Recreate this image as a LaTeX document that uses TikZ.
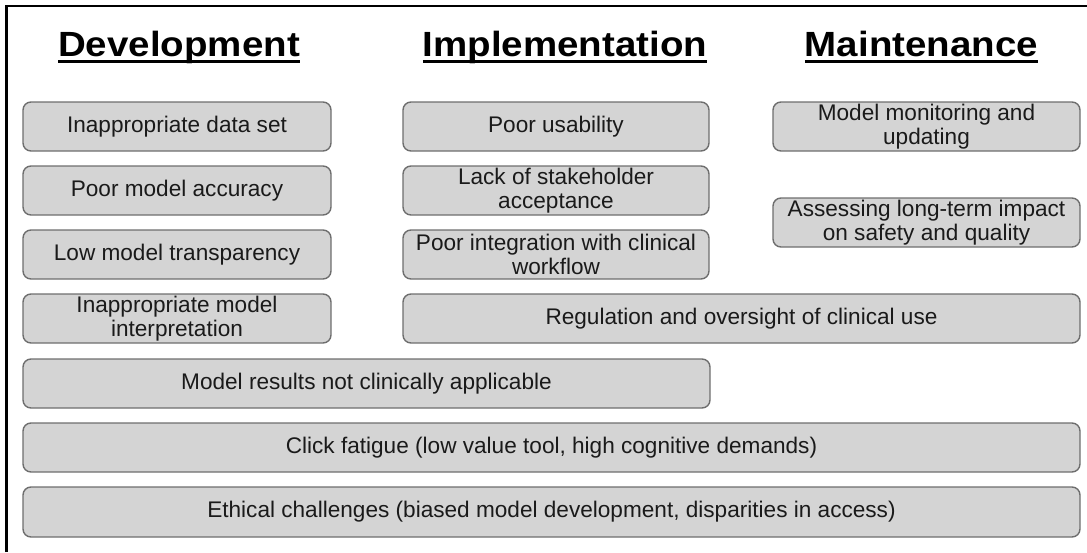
\documentclass[tikz,border=0pt]{standalone}
\usepackage{fontspec}
\setmainfont{Liberation Sans}
\newfontfamily\hdrfont[FakeStretch=1.1]{Liberation Sans}
\definecolor{boxfill}{HTML}{D4D4D4}
\definecolor{boxline}{HTML}{6E6E6E}
\definecolor{txt}{HTML}{1A1A1A}
\begin{document}
\begin{tikzpicture}[x=1pt,y=-1pt,
  item/.style={draw=boxline, fill=boxfill, line width=1.4pt, rounded corners=8pt,
    inner sep=0pt, outer sep=0pt, align=center, text=txt,
    font=\fontsize{22.6}{23.5}\selectfont},
  hdr/.style={inner sep=0pt, outer sep=0pt, anchor=base, text=black,
    font=\hdrfont\fontsize{35}{40}\selectfont\bfseries}]
\useasboundingbox (0,0) rectangle (1087,552);
% frame
\draw[line width=3.3pt, black] (6.7,552) -- (6.7,6.2);
\draw[line width=2.4pt, black] (5.05,6.2) -- (1087,6.2);
% headers
\node[hdr] (h1) at (179,56) {Development};
\node[hdr] (h2) at (565,56) {Implementation};
\node[hdr] (h3) at (921.5,56) {Maintenance};
\foreach \h in {h1,h2,h3}
  \draw[line width=3.2pt] ([yshift=-5.6pt]\h.base west) -- ([yshift=-5.6pt]\h.base east);
% development
\node[item, minimum width=308pt, minimum height=49pt] (d1) at (177,126.5) {Inappropriate data set};
\node[item, minimum width=308pt, minimum height=49pt] (d2) at (177,190.5) {Poor model accuracy};
\node[item, minimum width=308pt, minimum height=49pt] (d3) at (177,254.5) {Low model transparency};
\node[item, minimum width=308pt, minimum height=49pt] (d4) at (177,318.5) {Inappropriate model\\interpretation};
\node[item, minimum width=687pt, minimum height=49pt] (d5) at (366.5,383.5) {Model results not clinically applicable};
\node[item, minimum width=1057pt, minimum height=49pt] (a1) at (551.5,447.5) {Click fatigue (low value tool, high cognitive demands)};
\node[item, minimum width=1057pt, minimum height=50pt] (a2) at (551.5,512) {Ethical challenges (biased model development, disparities in access)};
% implementation
\node[item, minimum width=306pt, minimum height=49pt] (i1) at (556,126.5) {Poor usability};
\node[item, minimum width=306pt, minimum height=49pt] (i2) at (556,190.5) {Lack of stakeholder\\acceptance};
\node[item, minimum width=306pt, minimum height=49pt] (i3) at (556,254.5) {Poor integration with clinical\\workflow};
\node[item, minimum width=677pt, minimum height=49pt] (i4) at (741.5,318.5) {Regulation and oversight of clinical use};
% maintenance
\node[item, minimum width=307pt, minimum height=49pt] (m1) at (926.5,126.5) {Model monitoring and\\updating};
\node[item, minimum width=307pt, minimum height=49pt] (m2) at (926.5,222.5) {Assessing long-term impact\\on safety and quality};
\end{tikzpicture}
\end{document}
